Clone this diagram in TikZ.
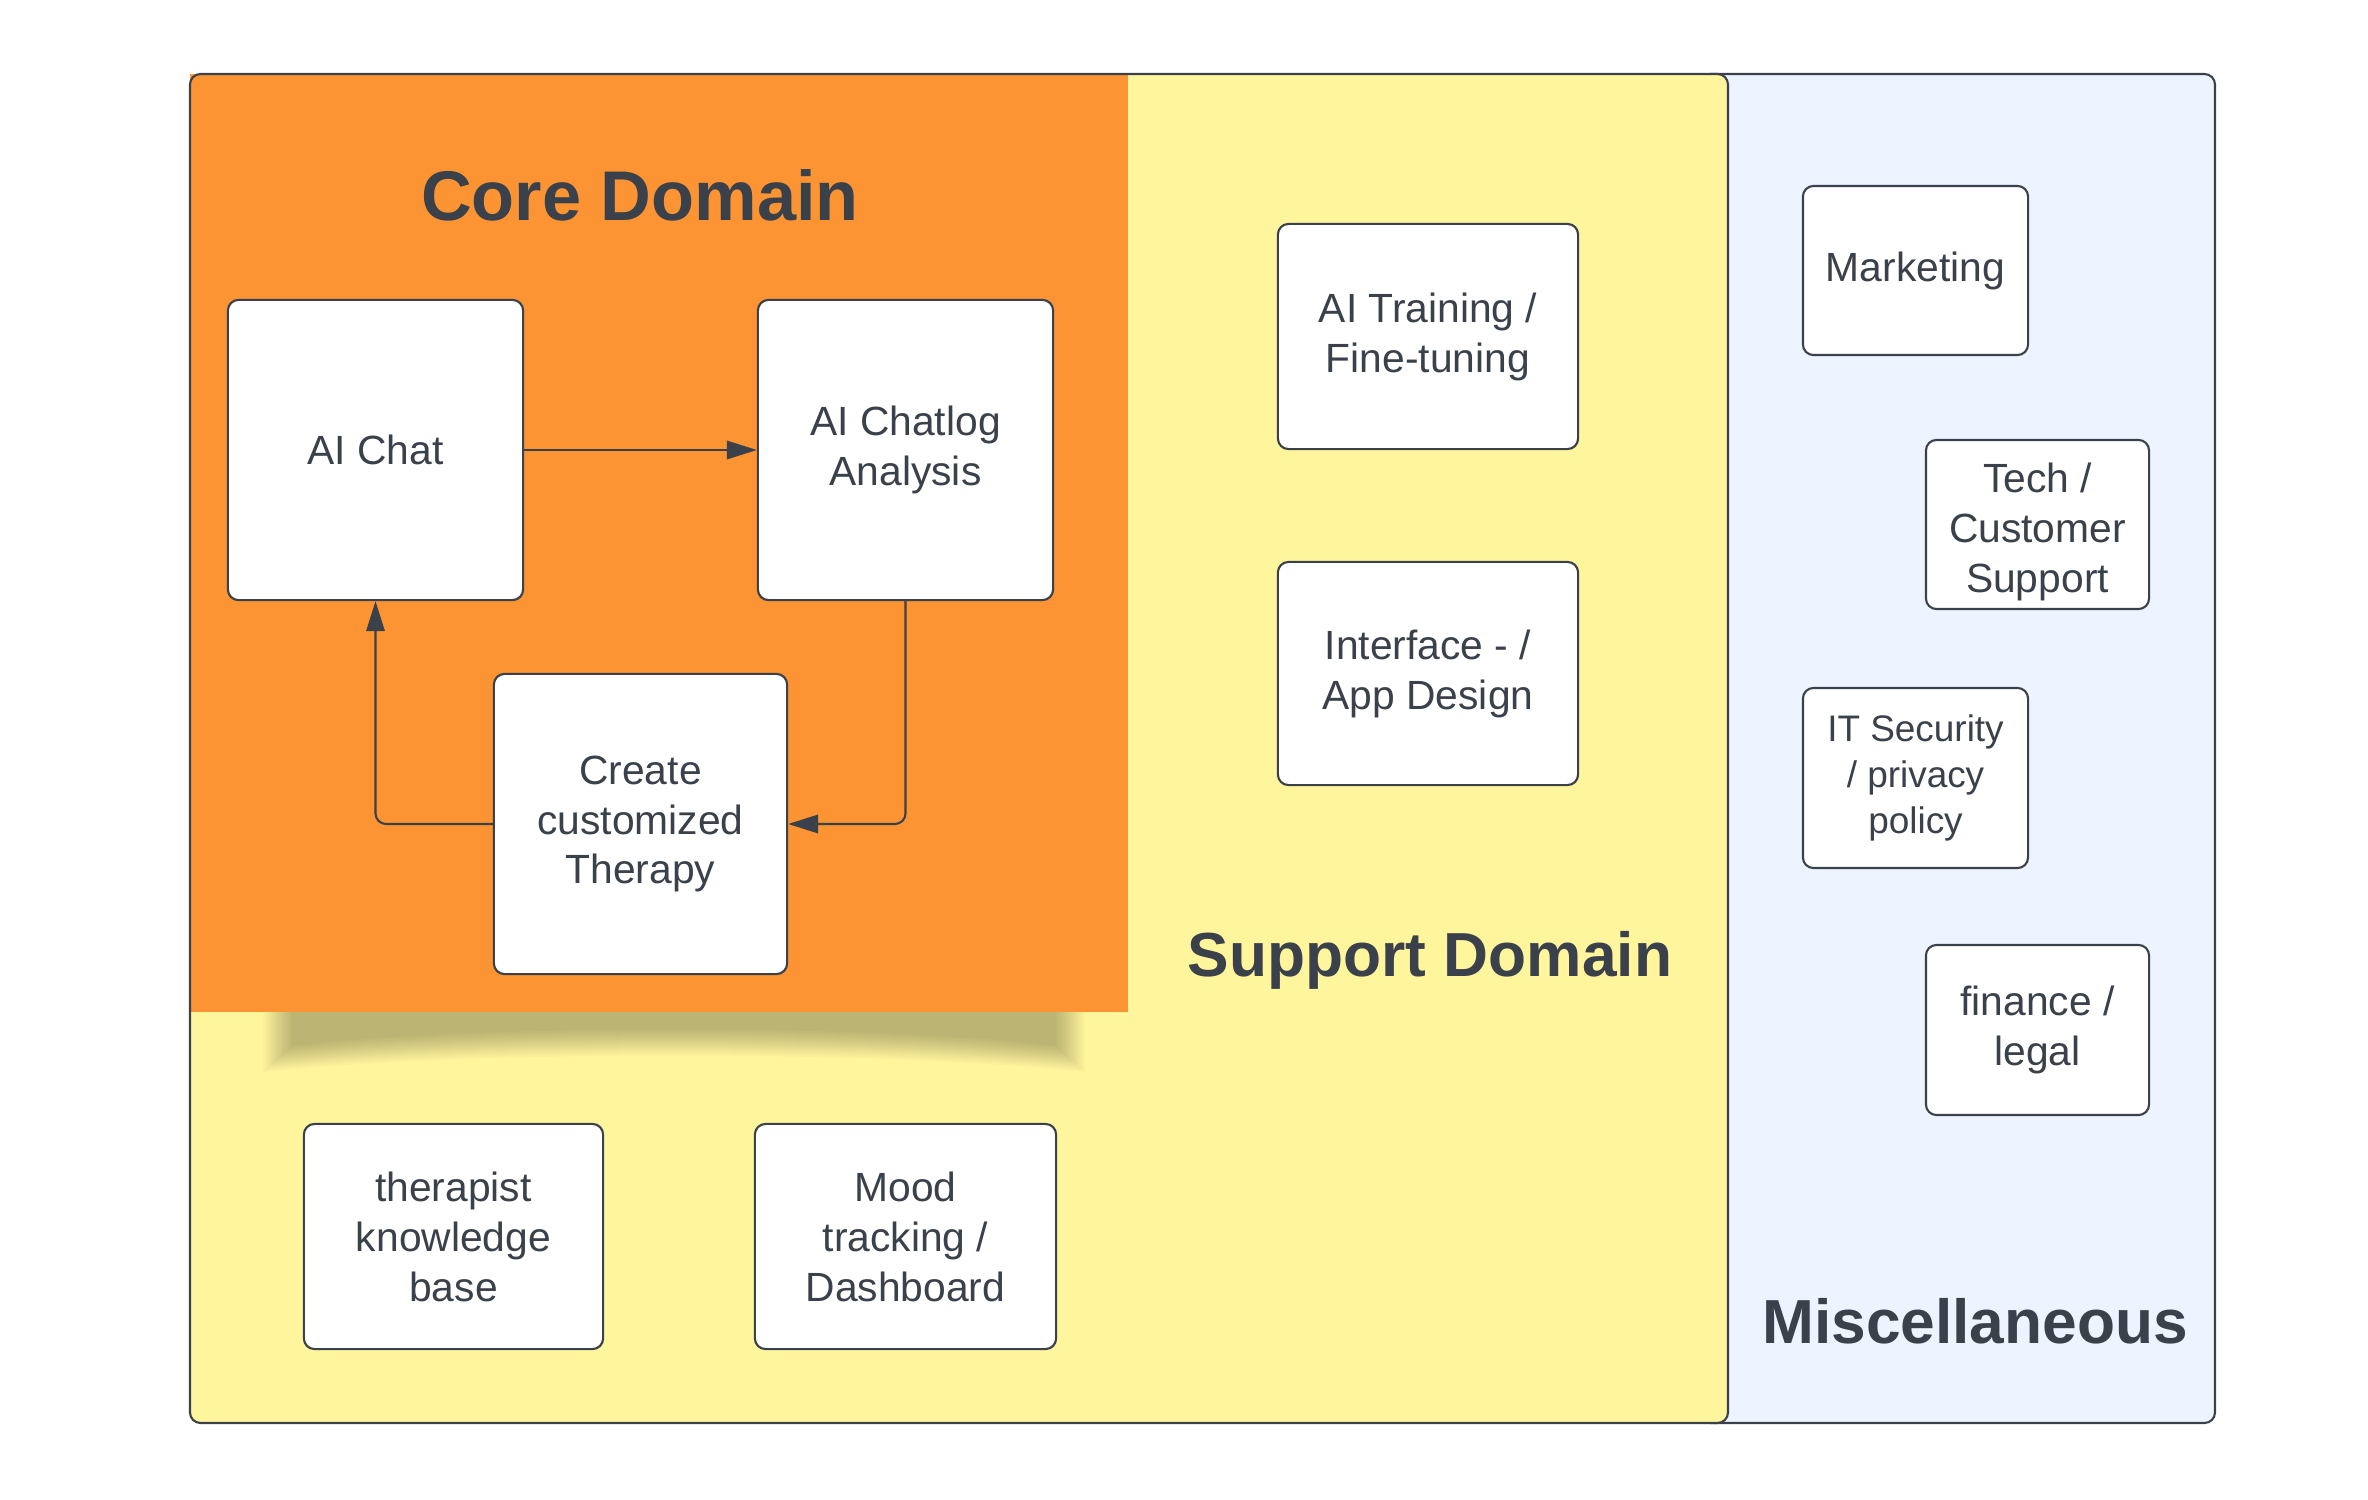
\documentclass[tikz,border=0pt]{standalone}
\usepackage{fontspec}
\setmainfont{Liberation Sans}
\usetikzlibrary{arrows.meta}
\definecolor{coreorange}{RGB}{252,148,51}
\definecolor{supyellow}{RGB}{255,245,157}
\definecolor{miscblue}{RGB}{237,244,255}
\definecolor{inkdark}{RGB}{58,65,74}
\begin{document}
\begin{tikzpicture}[x=0.01cm,y=-0.01cm,
  boxnode/.style={draw=inkdark, line width=0.6pt, fill=white, rounded corners=3pt,
    align=center, text=inkdark, inner sep=2pt,
    font=\fontsize{11.6}{14.2}\selectfont},
  smallbox/.style={boxnode, font=\fontsize{10.5}{13.2}\selectfont},
  plaintext/.style={text=inkdark, align=center, inner sep=0pt, font=\fontsize{11.6}{14.2}\selectfont},
  titlebig/.style={text=inkdark, font=\fontsize{20}{24}\selectfont\bfseries, anchor=base, inner sep=0pt},
  titlemid/.style={text=inkdark, font=\fontsize{17.7}{21}\selectfont\bfseries, anchor=base, inner sep=0pt},
  flow/.style={draw=inkdark, line width=0.6pt, rounded corners=3pt, -{Triangle[length=8.5pt,width=5.2pt]}}
]
\useasboundingbox (0,0) rectangle (2368,1500);
% domains
\fill[miscblue, draw=inkdark, line width=0.6pt, rounded corners=3pt] (1700,74) rectangle (2215,1423);
\fill[supyellow, rounded corners=3pt] (190,74) rectangle (1728,1423);
\fill[coreorange] (190,74) rectangle (1128,1012);
\draw[inkdark, line width=0.6pt, rounded corners=3pt] (190,74) rectangle (1728,1423);
% soft shadow below core domain
\begin{scope}
\clip (191,1012) rectangle (1128,1120);
\foreach \i in {0,...,13} {
  \fill[black, opacity=0.02] (292-\i*2.2,1000) -- (1056+\i*2.2,1000) -- (1056+\i*2.2,1046+\i*2.0)
    .. controls (880,1024+\i*2.0) and (470,1024+\i*2.0) .. (292-\i*2.2,1046+\i*2.0) -- cycle;
}
\end{scope}
% titles
\node[titlebig] (coretitle) at (640,221) {Core Domain};
\node[titlemid] (suptitle) at (1430,976) {Support Domain};
\node[titlemid] (misctitle) at (1975,1343) {Miscellaneous};
% core boxes
\node[boxnode, minimum width=2.95cm, minimum height=3.0cm] (aichat) at (375.5,450) {AI Chat};
\node[boxnode, minimum width=2.95cm, minimum height=3.0cm] (chatlog) at (905.5,450) {AI Chatlog\\Analysis};
\node[boxnode, minimum width=2.93cm, minimum height=3.0cm] (therapy) at (640.5,824) {Create\\customized\\Therapy};
% support boxes
\node[boxnode, minimum width=2.99cm, minimum height=2.25cm] (therapist) at (453.5,1236.5) {therapist\\knowledge\\base};
\node[boxnode, minimum width=3.01cm, minimum height=2.25cm] (mood) at (905.5,1236.5) {Mood\\tracking /\\Dashboard};
\node[boxnode, minimum width=3.0cm, minimum height=2.25cm] (training) at (1428,336.5) {AI Training /\\Fine-tuning};
\node[boxnode, minimum width=3.0cm, minimum height=2.23cm] (interface) at (1428,673.5) {Interface - /\\App Design};
% misc boxes
\node[boxnode, minimum width=2.25cm, minimum height=1.69cm] (marketing) at (1915.5,270.5) {Marketing};
\node[boxnode, minimum width=2.23cm, minimum height=1.69cm] (tech) at (2037.5,524.5) {};
\node[plaintext] (techtext) at (2037.5,532) {Tech /\\Customer\\Support};
\node[smallbox, minimum width=2.25cm, minimum height=1.80cm] (itsec) at (1915.5,778) {IT Security\\/ privacy\\policy};
\node[boxnode, minimum width=2.23cm, minimum height=1.70cm] (finance) at (2037.5,1030) {finance /\\legal};
% connectors
\draw[flow] (aichat.east) -- (chatlog.west);
\draw[flow] (chatlog.south) |- (therapy.east);
\draw[flow] (therapy.west) -| (aichat.south);
\end{tikzpicture}
\end{document}
